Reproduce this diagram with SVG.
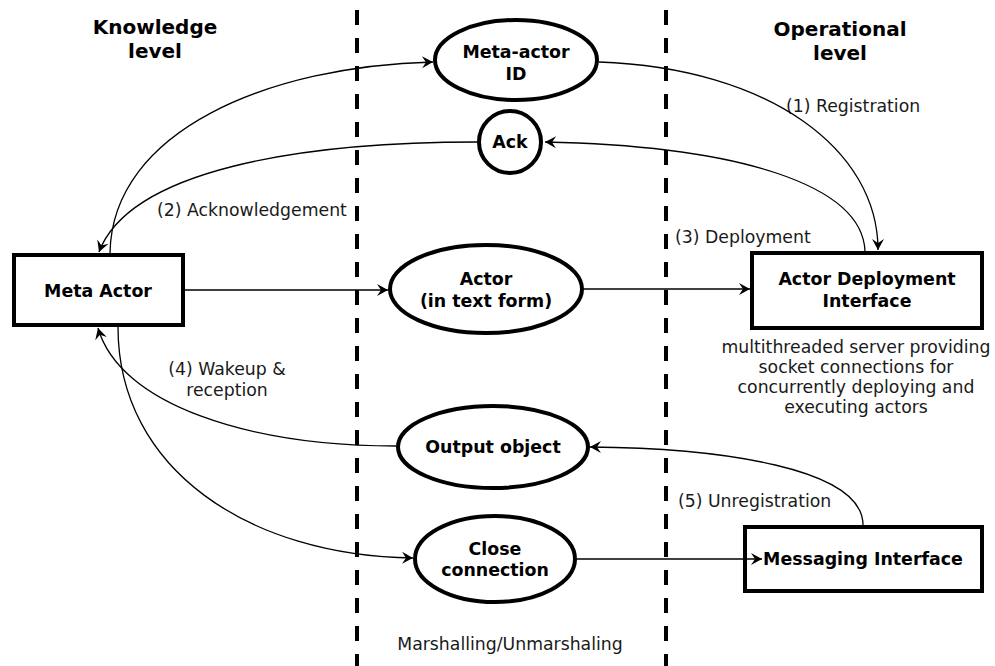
<svg xmlns="http://www.w3.org/2000/svg" width="995" height="666" viewBox="0 0 995 666">
  <style>
    .bg { fill: #ffffff; }
    .divider { stroke: #000; stroke-width: 4; stroke-dasharray: 15 13; fill: none; }
    .node { fill: #ffffff; stroke: #000; stroke-width: 4; }
    .title { font-family: "DejaVu Sans", Verdana, sans-serif; font-weight: bold; font-size: 20px; fill: #000; text-anchor: middle; }
    .ntext { font-family: "DejaVu Sans", Verdana, sans-serif; font-weight: bold; font-size: 17.4px; fill: #000; text-anchor: middle; }
    .label { font-family: "DejaVu Sans", Verdana, sans-serif; font-size: 17.3px; fill: #1a1a1a; }
    .edge { fill: none; stroke: #000; stroke-width: 1.3; marker-end: url(#arrow); }
  </style>
  <defs>
    <marker id="arrow" viewBox="-12 -7 14 14" refX="0" refY="0" markerWidth="14" markerHeight="14" markerUnits="userSpaceOnUse" orient="auto">
      <path d="M0,0 L-11,-6 L-7,0 L-11,6 Z" fill="#000"/>
    </marker>
  </defs>

  <rect class="bg" x="0" y="0" width="995" height="666"/>

  <!-- level separators -->
  <g id="dividers">
    <line class="divider" x1="357" y1="10" x2="357" y2="666"/>
    <line class="divider" x1="666" y1="10" x2="666" y2="666"/>
  </g>

  <!-- headings -->
  <g id="headings">
    <text class="title" x="155" y="34">Knowledge</text>
    <text class="title" x="155" y="58">level</text>
    <text class="title" x="840" y="36">Operational</text>
    <text class="title" x="840" y="60">level</text>
  </g>

  <!-- connector labels -->
  <g id="edge-labels">
    <text class="label" x="786" y="112">(1) Registration</text>
    <text class="label" x="157" y="216">(2) Acknowledgement</text>
    <text class="label" x="675" y="243">(3) Deployment</text>
    <text class="label" x="227" y="375" text-anchor="middle">(4) Wakeup &amp;</text>
    <text class="label" x="227" y="396" text-anchor="middle">reception</text>
    <text class="label" x="678" y="507">(5) Unregistration</text>
    <text class="label" x="510" y="650" text-anchor="middle">Marshalling/Unmarshaling</text>
  </g>

  <!-- nodes -->
  <g id="meta-actor">
    <rect class="node" x="14" y="255" width="169" height="70"/>
    <text class="ntext" x="98" y="297">Meta Actor</text>
  </g>

  <g id="meta-actor-id">
    <ellipse class="node" cx="516" cy="60" rx="81" ry="40"/>
    <text class="ntext" x="516" y="58">Meta-actor</text>
    <text class="ntext" x="516" y="80">ID</text>
  </g>

  <g id="ack">
    <circle class="node" cx="510" cy="142" r="31"/>
    <text class="ntext" x="510" y="148">Ack</text>
  </g>

  <g id="actor">
    <ellipse class="node" cx="486" cy="289" rx="96" ry="44"/>
    <text class="ntext" x="486" y="285">Actor</text>
    <text class="ntext" x="486" y="307">(in text form)</text>
  </g>

  <g id="actor-deployment-interface">
    <rect class="node" x="752" y="253" width="230" height="75"/>
    <text class="ntext" x="867" y="285">Actor Deployment</text>
    <text class="ntext" x="867" y="307">Interface</text>
    <text class="label" x="856" y="353" text-anchor="middle">multithreaded server providing</text>
    <text class="label" x="856" y="373" text-anchor="middle">socket connections for</text>
    <text class="label" x="856" y="393" text-anchor="middle">concurrently deploying and</text>
    <text class="label" x="856" y="413" text-anchor="middle">executing actors</text>
  </g>

  <g id="output-object">
    <ellipse class="node" cx="493" cy="447" rx="95" ry="41"/>
    <text class="ntext" x="493" y="453">Output object</text>
  </g>

  <g id="close-connection">
    <ellipse class="node" cx="495" cy="559" rx="80" ry="43"/>
    <text class="ntext" x="495" y="555">Close</text>
    <text class="ntext" x="495" y="576">connection</text>
  </g>

  <g id="messaging-interface">
    <rect class="node" x="745" y="527" width="237" height="64"/>
    <text class="ntext" x="863" y="565">Messaging Interface</text>
  </g>

  <!-- connectors, drawn over the node outlines -->
  <g id="connectors">
    <!-- Meta Actor -> Meta-actor ID -->
    <path class="edge" d="M110,253 C112,130 270,66 433,62"/>
    <!-- Meta-actor ID -> Actor Deployment Interface (1) -->
    <path class="edge" d="M599,62 C770,68 878,150 878,250"/>
    <!-- Actor Deployment Interface -> Ack -->
    <path class="edge" d="M865,251 C862,185 740,146 545,142"/>
    <!-- Ack -> Meta Actor (2) -->
    <path class="edge" d="M477,142 C300,142 130,170 99,252"/>
    <!-- Meta Actor -> Actor -->
    <path class="edge" d="M185,290 L388,290"/>
    <!-- Actor -> Actor Deployment Interface (3) -->
    <path class="edge" d="M584,289 L750,289"/>
    <!-- Output object -> Meta Actor (4) -->
    <path class="edge" d="M396,446 C250,446 120,405 98,328"/>
    <!-- Meta Actor -> Close connection -->
    <path class="edge" d="M118,327 C118,470 250,556 413,558"/>
    <!-- Messaging Interface -> Output object (5) -->
    <path class="edge" d="M863,525 C863,468 720,448 590,447"/>
    <!-- Close connection -> Messaging Interface -->
    <path class="edge" d="M577,559 L762,559"/>
  </g>
</svg>
